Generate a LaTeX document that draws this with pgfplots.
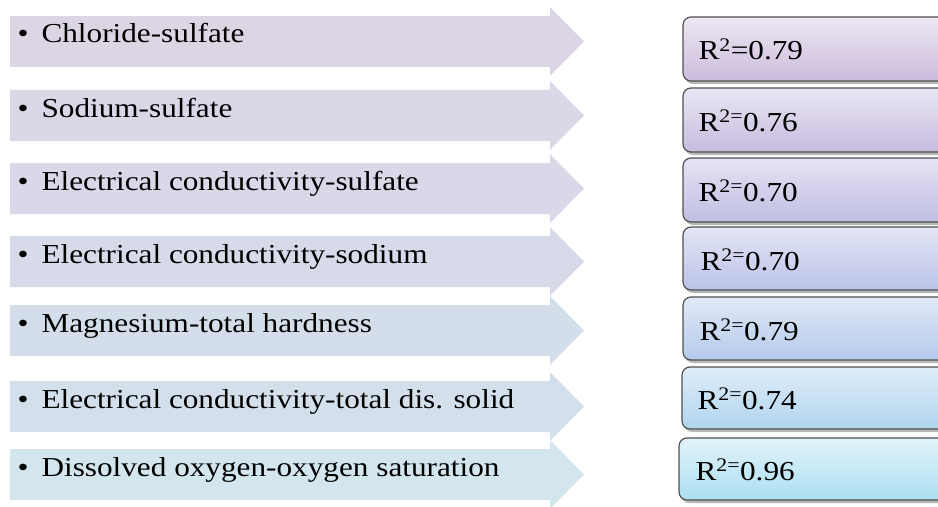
\documentclass[border=0pt]{standalone}
\usepackage{pgfplots}
\pgfplotsset{compat=1.18}
\usepackage{fontspec}
\setmainfont{Liberation Serif}
\newfontfamily\wide[FakeStretch=1.14]{Liberation Serif}
\definecolor{a1}{HTML}{DCD6E4}
\definecolor{a2}{HTML}{DAD7E6}
\definecolor{a3}{HTML}{D8D8E8}
\definecolor{a4}{HTML}{D6DAE9}
\definecolor{a5}{HTML}{D4DDEA}
\definecolor{a6}{HTML}{D3E0EB}
\definecolor{a7}{HTML}{D4E6ED}
\definecolor{t1}{HTML}{EEE8F3}\definecolor{b1}{HTML}{CBBBDC}
\definecolor{t2}{HTML}{EAE6F4}\definecolor{b2}{HTML}{C6BCDE}
\definecolor{t3}{HTML}{E6E4F4}\definecolor{b3}{HTML}{C0BEE2}
\definecolor{t4}{HTML}{E4E6F6}\definecolor{b4}{HTML}{BAC2E6}
\definecolor{t5}{HTML}{E1E9F7}\definecolor{b5}{HTML}{B4CAEA}
\definecolor{t6}{HTML}{DFEDF8}\definecolor{b6}{HTML}{B0D4EE}
\definecolor{t7}{HTML}{E2F3FA}\definecolor{b7}{HTML}{ACDEF2}
\definecolor{bord}{HTML}{505050}
\begin{document}
\begin{tikzpicture}
\begin{axis}[
  scale only axis, width=938bp, height=507bp,
  xmin=0, xmax=938, ymin=0, ymax=507, y dir=reverse,
  hide axis, clip=true,
  every node/.style={inner sep=0pt, outer sep=0pt},
]
\addplot[draw=none] coordinates {(0,0) (938,507)};
% arrows
\addplot[fill=a1, draw=none] coordinates {(10,16) (550,16) (550,7) (584,41.5) (550,76) (550,67) (10,67)};
\addplot[fill=a2, draw=none] coordinates {(10,90) (550,90) (550,81) (584,115.5) (550,150) (550,141) (10,141)};
\addplot[fill=a3, draw=none] coordinates {(10,163) (550,163) (550,154) (584,188.5) (550,223) (550,214) (10,214)};
\addplot[fill=a4, draw=none] coordinates {(10,236) (550,236) (550,227) (584,261.5) (550,296) (550,287) (10,287)};
\addplot[fill=a5, draw=none] coordinates {(10,305) (550,305) (550,296) (584,330.5) (550,365) (550,356) (10,356)};
\addplot[fill=a6, draw=none] coordinates {(10,381) (550,381) (550,372) (584,406.5) (550,441) (550,432) (10,432)};
\addplot[fill=a7, draw=none] coordinates {(10,449) (550,449) (550,440) (584,474.5) (550,509) (550,500) (10,500)};
% shadows
\addplot[fill=black, opacity=0.28, draw=none, rounded corners=8bp] coordinates {(800,20) (950,20) (950,84) (685,84) (685,20) (800,20)};
\addplot[fill=black, opacity=0.28, draw=none, rounded corners=8bp] coordinates {(800,91) (950,91) (950,155) (685,155) (685,91) (800,91)};
\addplot[fill=black, opacity=0.28, draw=none, rounded corners=8bp] coordinates {(800,161) (950,161) (950,225) (685,225) (685,161) (800,161)};
\addplot[fill=black, opacity=0.28, draw=none, rounded corners=8bp] coordinates {(800,230) (950,230) (950,293) (685,293) (685,230) (800,230)};
\addplot[fill=black, opacity=0.28, draw=none, rounded corners=8bp] coordinates {(800,300) (950,300) (950,363) (685,363) (685,300) (800,300)};
\addplot[fill=black, opacity=0.28, draw=none, rounded corners=8bp] coordinates {(800,370) (950,370) (950,432) (684,432) (684,370) (800,370)};
\addplot[fill=black, opacity=0.28, draw=none, rounded corners=8bp] coordinates {(800,441) (950,441) (950,503) (681,503) (681,441) (800,441)};
% boxes
\addplot[draw=bord, line width=1.2bp, top color=t1, bottom color=b1, rounded corners=8bp] coordinates {(800,17) (950,17) (950,81) (683,81) (683,17) (800,17)};
\addplot[draw=bord, line width=1.2bp, top color=t2, bottom color=b2, rounded corners=8bp] coordinates {(800,88) (950,88) (950,152) (683,152) (683,88) (800,88)};
\addplot[draw=bord, line width=1.2bp, top color=t3, bottom color=b3, rounded corners=8bp] coordinates {(800,158) (950,158) (950,222) (683,222) (683,158) (800,158)};
\addplot[draw=bord, line width=1.2bp, top color=t4, bottom color=b4, rounded corners=8bp] coordinates {(800,227) (950,227) (950,290) (683,290) (683,227) (800,227)};
\addplot[draw=bord, line width=1.2bp, top color=t5, bottom color=b5, rounded corners=8bp] coordinates {(800,297) (950,297) (950,360) (683,360) (683,297) (800,297)};
\addplot[draw=bord, line width=1.2bp, top color=t6, bottom color=b6, rounded corners=8bp] coordinates {(800,367) (950,367) (950,429) (682,429) (682,367) (800,367)};
\addplot[draw=bord, line width=1.2bp, top color=t7, bottom color=b7, rounded corners=8bp] coordinates {(800,438) (950,438) (950,500) (679,500) (679,438) (800,438)};
% labels
\begin{scope}[font=\wide\fontsize{27.5}{30}\selectfont]
\node[anchor=base west] at (axis cs:14,43) {\textbullet};
\node[anchor=base west] at (axis cs:38,43) {Chloride-sulfate};
\node[anchor=base west] at (axis cs:14,117) {\textbullet};
\node[anchor=base west] at (axis cs:38,117) {Sodium-sulfate};
\node[anchor=base west] at (axis cs:14,190) {\textbullet};
\node[anchor=base west] at (axis cs:38,190) {Electrical conductivity-sulfate};
\node[anchor=base west] at (axis cs:14,263) {\textbullet};
\node[anchor=base west] at (axis cs:38,263) {Electrical conductivity-sodium};
\node[anchor=base west] at (axis cs:14,332) {\textbullet};
\node[anchor=base west] at (axis cs:38,332) {Magnesium-total hardness};
\node[anchor=base west] at (axis cs:14,408) {\textbullet};
\node[anchor=base west] at (axis cs:38,408) {Electrical conductivity-total dis. solid};
\node[anchor=base west] at (axis cs:14,476) {\textbullet};
\node[anchor=base west] at (axis cs:38,476) {Dissolved oxygen-oxygen saturation};
\end{scope}
\begin{scope}[font=\wide\fontsize{27.5}{30}\selectfont]
\node[anchor=base west] at (axis cs:695,60) {R\textsuperscript{2}=0.79};
\node[anchor=base west] at (axis cs:695,131) {R\textsuperscript{2=}0.76};
\node[anchor=base west] at (axis cs:695,201) {R\textsuperscript{2=}0.70};
\node[anchor=base west] at (axis cs:697,270) {R\textsuperscript{2=}0.70};
\node[anchor=base west] at (axis cs:696,340) {R\textsuperscript{2=}0.79};
\node[anchor=base west] at (axis cs:694,409) {R\textsuperscript{2=}0.74};
\node[anchor=base west] at (axis cs:692,480) {R\textsuperscript{2=}0.96};
\end{scope}
\end{axis}
\end{tikzpicture}
\end{document}
